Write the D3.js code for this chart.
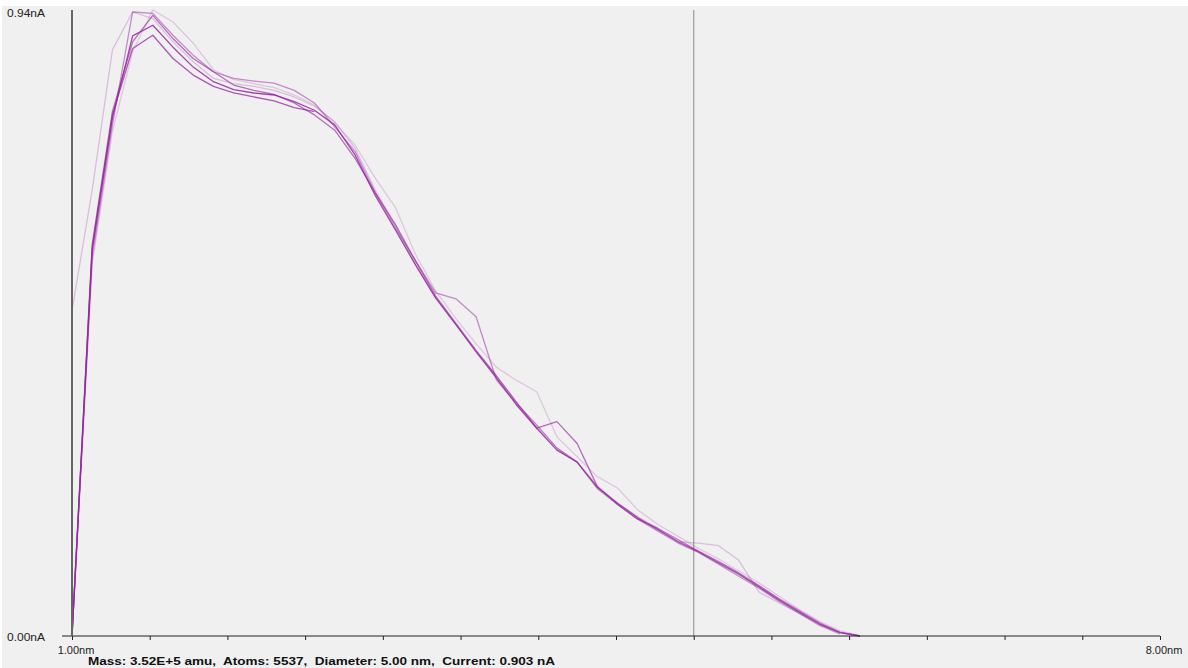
<!DOCTYPE html>
<html>
<head>
<meta charset="utf-8">
<script src="https://cdn.jsdelivr.net/npm/d3@7"></script>
<style>
  body { margin: 0; background: #fff; }
  svg { display: block; font-family: "Liberation Sans", Arial, sans-serif; }
</style>
</head>
<body>
<svg id="chart" width="1188" height="668"></svg>
<script>
// bin step along x (nm), first bin at 1.00nm
var xStart = 1.0;
var xStep = 0.13;

// current per bin (nA), one array per trace
var trace1 = [0, 0.581, 0.780, 0.904, 0.920, 0.887, 0.857, 0.835, 0.823, 0.818, 0.815, 0.805, 0.792, 0.770, 0.725, 0.664, 0.612, 0.559, 0.509, 0.469, 0.428, 0.389, 0.348, 0.313, 0.280, 0.262, 0.224, 0.200, 0.178, 0.160, 0.142, 0.127, 0.110, 0.093, 0.074, 0.054, 0.036, 0.018, 0.005, 0];
var trace2 = [0, 0.590, 0.790, 0.895, 0.935, 0.900, 0.870, 0.850, 0.830, 0.822, 0.816, 0.803, 0.785, 0.762, 0.720, 0.668, 0.620, 0.565, 0.512, 0.470, 0.430, 0.392, 0.352, 0.313, 0.323, 0.290, 0.225, 0.198, 0.176, 0.162, 0.145, 0.128, 0.112, 0.095, 0.076, 0.056, 0.038, 0.020, 0.006, 0];
var trace3 = [0, 0.570, 0.770, 0.940, 0.938, 0.905, 0.875, 0.850, 0.840, 0.836, 0.833, 0.822, 0.803, 0.767, 0.730, 0.668, 0.615, 0.565, 0.517, 0.508, 0.481, 0.386, 0.350, 0.318, 0.283, 0.262, 0.222, 0.198, 0.176, 0.158, 0.140, 0.126, 0.108, 0.090, 0.072, 0.052, 0.034, 0.016, 0.003];
var trace4 = [0, 0.585, 0.785, 0.885, 0.905, 0.870, 0.845, 0.828, 0.818, 0.812, 0.806, 0.796, 0.790];
var trace5 = [0.490, 0.672, 0.883, 0.940, 0.930, 0.895, 0.865, 0.840, 0.832, 0.828, 0.822, 0.812, 0.798, 0.775, 0.735, 0.672, 0.618, 0.560, 0.510, 0.472, 0.430, 0.392, 0.352, 0.316, 0.283, 0.262, 0.226, 0.200, 0.180, 0.162, 0.142, 0.140, 0.136, 0.114, 0.066, 0.050, 0.034, 0.018, 0.005, 0];
var trace6 = [0, 0.560, 0.760, 0.880, 0.943, 0.925, 0.893, 0.853, 0.838, 0.832, 0.826, 0.815, 0.800, 0.773, 0.740, 0.690, 0.646, 0.575, 0.520, 0.478, 0.440, 0.405, 0.385, 0.368, 0.300, 0.270, 0.240, 0.223, 0.190, 0.168, 0.150, 0.132, 0.116, 0.098, 0.080, 0.060, 0.040, 0.022, 0.008, 0];

var traces = [trace6, trace5, trace3, trace2, trace4, trace1];
var traceOpacity = [0.2, 0.25, 0.5, 0.65, 0.75, 0.85];

var xTicks = [1, 1.5, 2, 2.5, 3, 3.5, 4, 4.5, 5, 5.5, 6, 6.5, 7, 7.5, 8];
var xLabels = ["1.00nm", "8.00nm"];
var yLabels = ["0.00nA", "0.94nA"];
var markerX = 5.0;
var infoText = "Mass: 3.52E+5 amu,  Atoms: 5537,  Diameter: 5.00 nm,  Current: 0.903 nA";

var svg = d3.select("#chart");

svg.append("rect")
    .attr("x", 2).attr("y", 6)
    .attr("width", 1186).attr("height", 662)
    .attr("fill", "#f0f0f0");

var x = d3.scaleLinear().domain([1, 8]).range([72, 1160]);
var y = d3.scaleLinear().domain([0, 0.94]).range([636, 12]);

var g = svg.append("g");

// the marker line at the particle diameter
g.append("line")
    .attr("x1", x(markerX)).attr("x2", x(markerX))
    .attr("y1", y(0.94) - 2).attr("y2", y(0))
    .attr("stroke", "#9a9a9a")
    .attr("stroke-width", 1.2);

var line = d3.line()
    .x(function(d, i) { return x(xStart + i * xStep); })
    .y(function(d) { return y(d); });

g.selectAll(".trace")
    .data(traces)
    .enter().append("path")
    .attr("class", "trace")
    .attr("d", function(d) { return line(d); })
    .attr("fill", "none")
    .attr("stroke", "#9626a0")
    .attr("stroke-opacity", function(d, i) { return traceOpacity[i]; })
    .attr("stroke-width", 1.3)
    .attr("stroke-linejoin", "round");

// x axis
var xAxis = g.append("g")
    .attr("transform", "translate(0," + y(0) + ")")
    .call(d3.axisBottom(x).tickValues(xTicks).tickSize(4).tickFormat(""));
xAxis.select(".domain").attr("d", "M" + (x(1) - 10) + ",0H" + x(8)).attr("stroke", "#222");
xAxis.selectAll(".tick line").attr("stroke", "#222");

// y axis
var yAxis = g.append("g")
    .attr("transform", "translate(" + x(1) + ",0)")
    .call(d3.axisLeft(y).tickValues([]).tickSizeOuter(0));
yAxis.select(".domain")
    .attr("d", "M0," + (y(0.94) - 2) + "V" + y(0))
    .attr("stroke", "#666")
    .attr("stroke-width", 2);

g.selectAll(".xlab")
    .data([1, 8])
    .enter().append("text")
    .attr("class", "xlab")
    .attr("x", function(d) { return x(d) + 4; })
    .attr("y", y(0) + 18)
    .attr("text-anchor", "middle")
    .attr("font-size", 11)
    .attr("fill", "#222")
    .text(function(d, i) { return xLabels[i]; });

g.selectAll(".ylab")
    .data([0, 0.94])
    .enter().append("text")
    .attr("class", "ylab")
    .attr("x", 7)
    .attr("y", function(d) { return y(d) + 5; })
    .attr("font-size", 11)
    .attr("fill", "#222")
    .attr("textLength", 38)
    .attr("lengthAdjust", "spacingAndGlyphs")
    .text(function(d, i) { return yLabels[i]; });

svg.append("text")
    .attr("x", 88)
    .attr("y", 665)
    .attr("font-size", 11.5)
    .attr("font-weight", "bold")
    .attr("fill", "#111")
    .attr("textLength", 467)
    .attr("lengthAdjust", "spacingAndGlyphs")
    .attr("xml:space", "preserve")
    .style("white-space", "pre")
    .text(infoText);
</script>
</body>
</html>
